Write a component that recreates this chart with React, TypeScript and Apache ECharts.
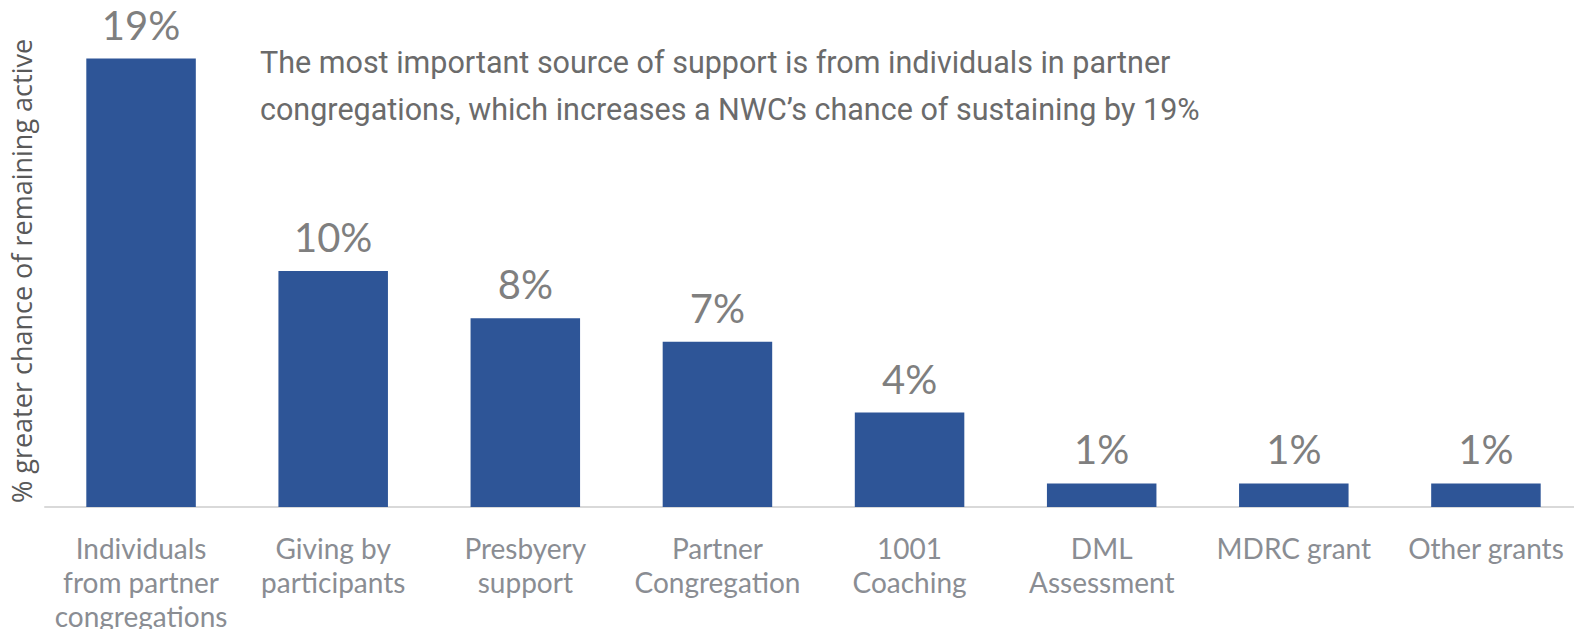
import React, { useEffect, useRef } from "react";
import * as echarts from "echarts";

const categories = [
  "Individuals\nfrom partner\ncongregations",
  "Giving by\nparticipants",
  "Presbyery\nsupport",
  "Partner\nCongregation",
  "1001\nCoaching",
  "DML\nAssessment",
  "MDRC grant",
  "Other grants",
];
const values = [19, 10, 8, 7, 4, 1, 1, 1];
const yAxisName = "% greater chance of remaining active";
const annotationLines = [
  "The most important source of support is from individuals in partner",
  "congregations, which increases a NWC\u2019s chance of sustaining by 19%",
];

export default function App() {
  const ref = useRef<HTMLDivElement>(null);
  useEffect(() => {
    const chart = echarts.init(ref.current!, null, { renderer: "svg" });
    chart.setOption({
      animation: false,
      grid: { left: 43, right: 0, top: 35, bottom: 130 },
      xAxis: {
        type: "category",
        data: categories,
        axisLine: { show: true, lineStyle: { color: "#D9D9D9", width: 2 } },
        axisTick: { show: false },
        axisLabel: {
          interval: 0,
          color: "#8A8D93",
          fontFamily: "Lato",
          fontSize: 28,
          lineHeight: 34,
          margin: 24,
        },
      },
      yAxis: {
        type: "value",
        min: 0,
        max: 20,
        axisLine: { show: false },
        axisTick: { show: false },
        axisLabel: { show: false },
        splitLine: { show: false },
        name: yAxisName,
        nameLocation: "middle",
        nameRotate: 90,
        nameGap: 10,
        nameTextStyle: {
          color: "#595959",
          fontFamily: "Open Sans",
          fontSize: 27,
        },
      },
      series: [
        {
          type: "bar",
          data: values,
          barWidth: "57%",
          itemStyle: { color: "#2E5597" },
          label: {
            show: true,
            position: "top",
            distance: 14,
            formatter: "{c}%",
            color: "#7F7F7F",
            fontFamily: "Lato",
            fontSize: 40,
          },
        },
      ],
      graphic: [
        {
          type: "text",
          left: 260,
          top: 39,
          style: {
            text: annotationLines.join("\n"),
            fill: "#6B6B6B",
            font: "30.5px Roboto",
            lineHeight: 47,
          },
        },
      ],
    });
    return () => chart.dispose();
  }, []);
  return <div ref={ref} style={{ width: 1582, height: 637, margin: -8 }} />;
}
